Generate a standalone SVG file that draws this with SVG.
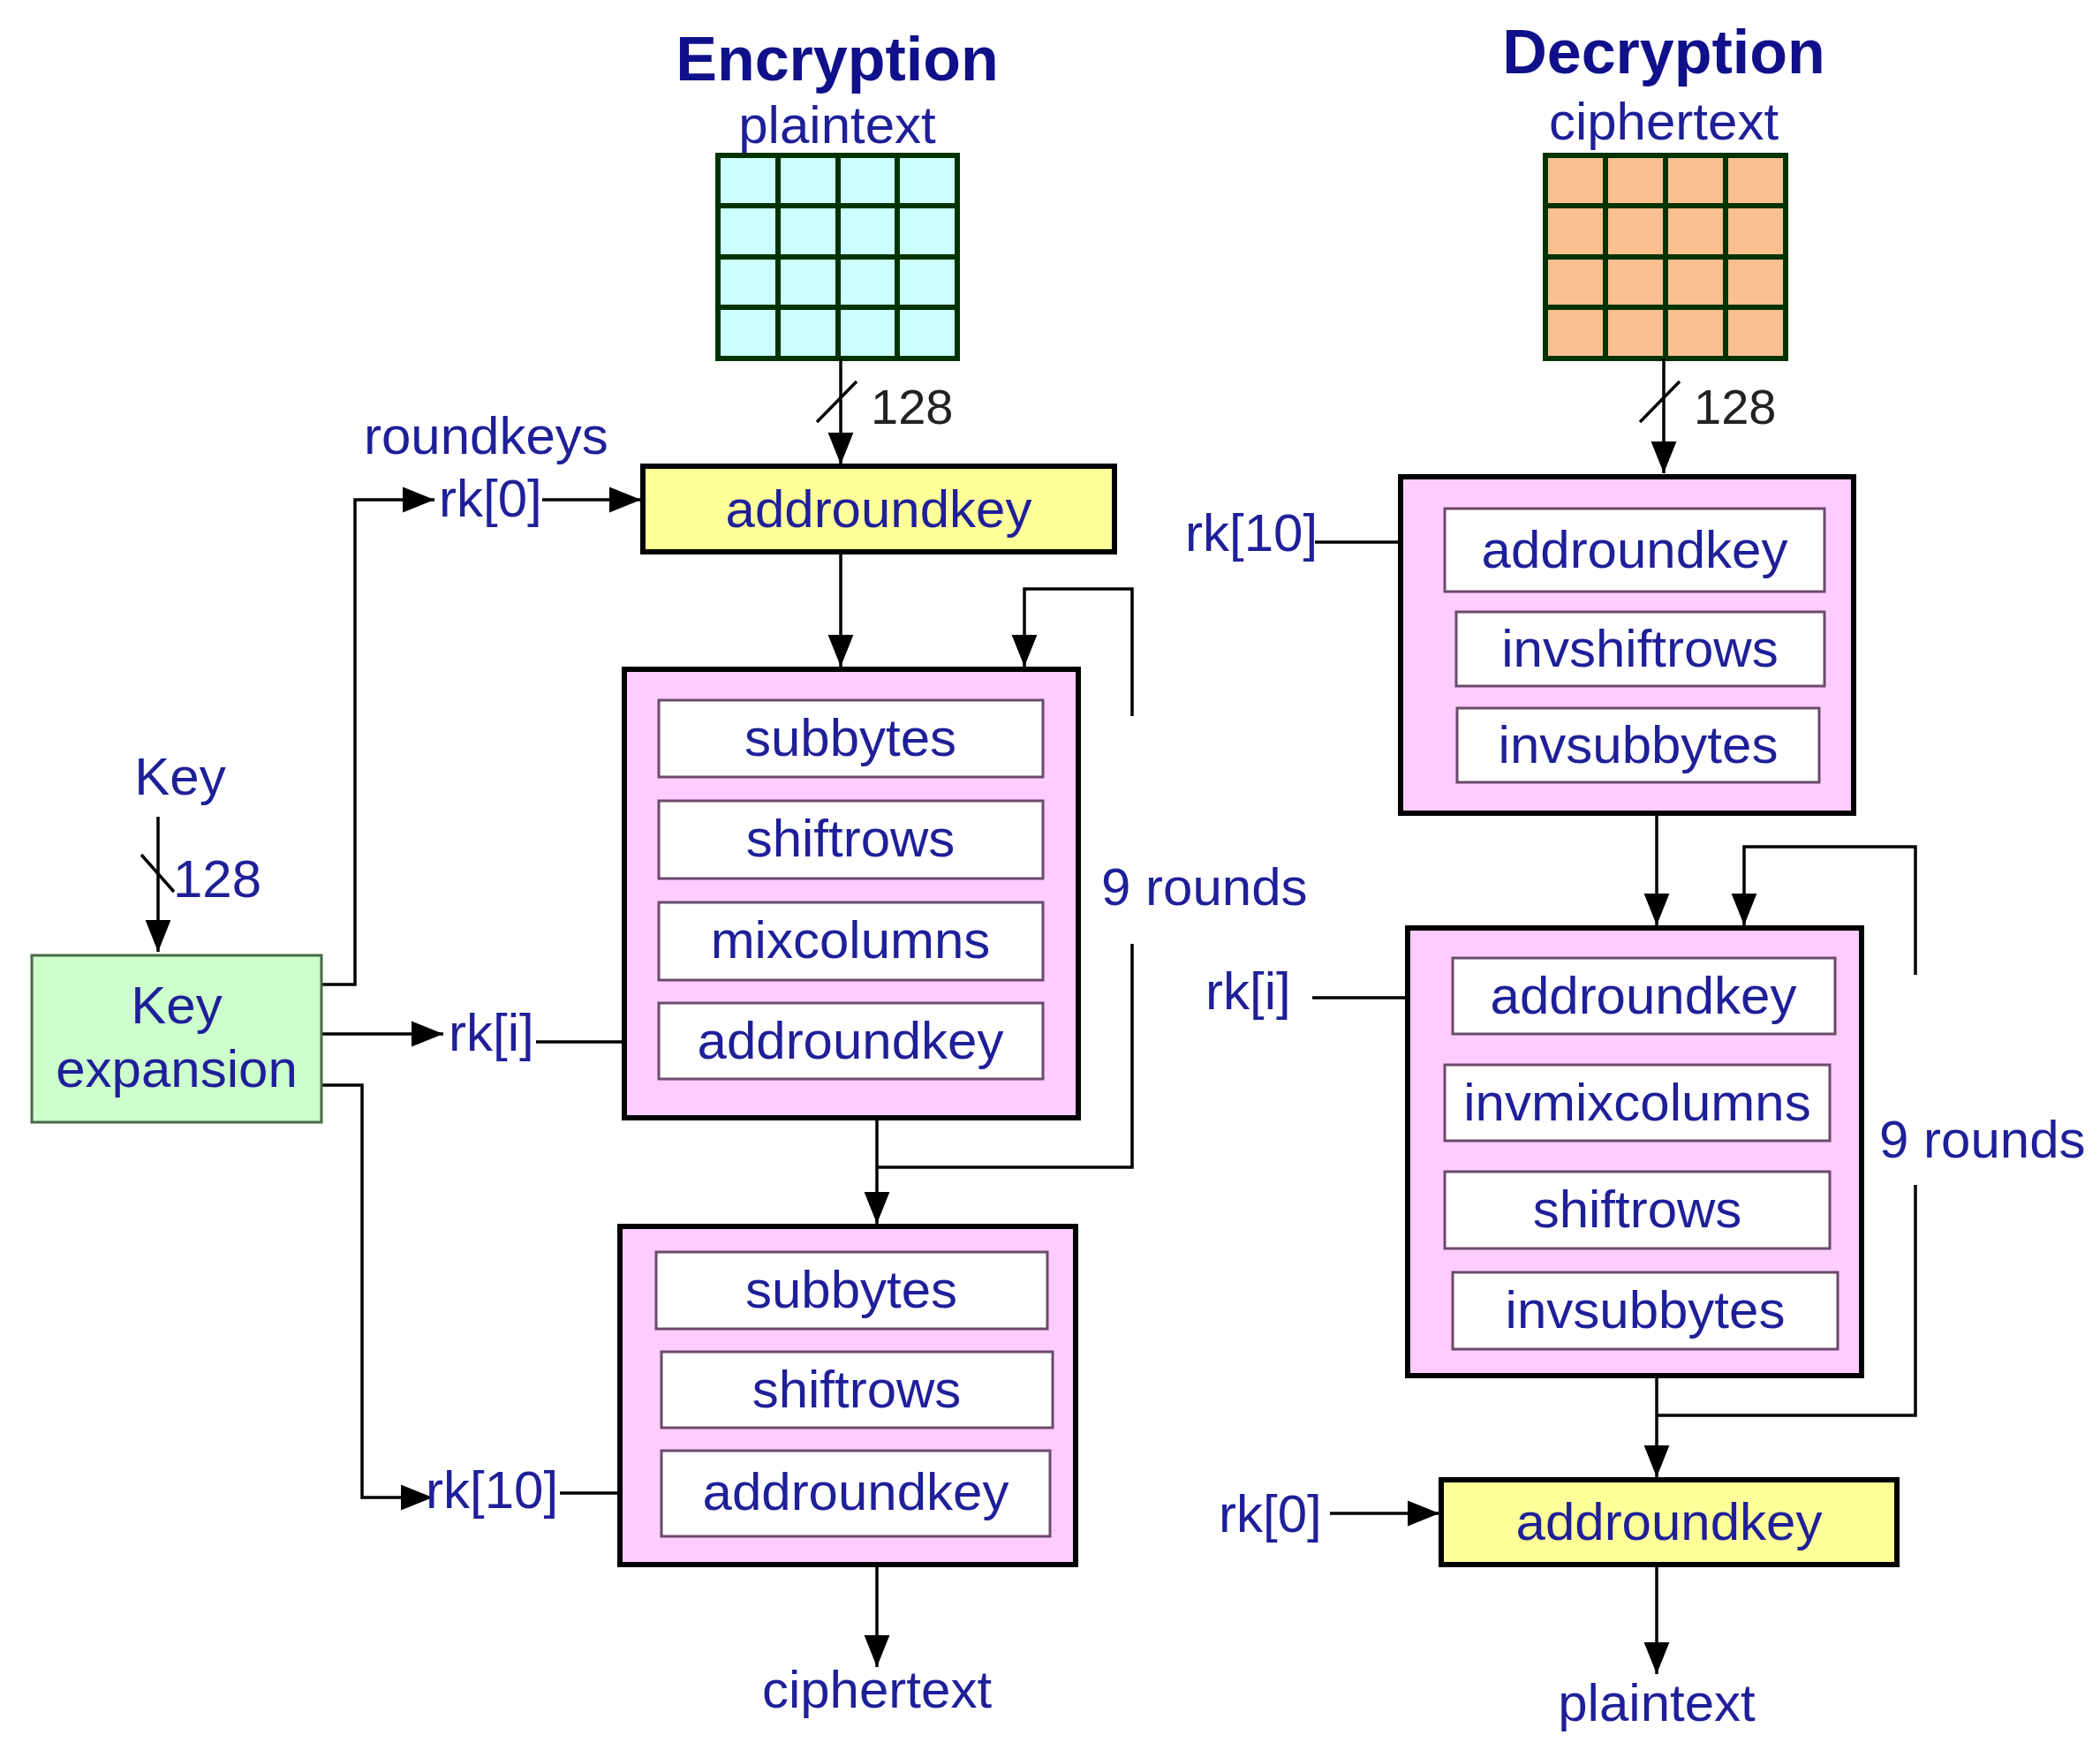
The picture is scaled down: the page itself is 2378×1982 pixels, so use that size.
<svg xmlns="http://www.w3.org/2000/svg" width="2378" height="1982" viewBox="0 0 2378 1982">
<style>
text{font-family:"Liberation Sans",Arial,sans-serif;fill:#1f1f99;font-size:60px}
.t{font-weight:bold;font-size:70px;fill:#10108a}
.n{fill:#222;font-size:56px}
.m{text-anchor:middle}
.outer{fill:#ffccff;stroke:#000;stroke-width:6}
.inner{fill:#fff;stroke:#6a4a6a;stroke-width:3}
.yel{fill:#ffff99;stroke:#000;stroke-width:6}
.ln{fill:none;stroke:#000;stroke-width:3.5}
.grid{stroke:#003300;stroke-width:6;fill:none}
</style>
<defs>
<marker id="a" viewBox="0 0 10 10" refX="10" refY="5" markerWidth="8" markerHeight="8" markerUnits="userSpaceOnUse" orient="auto"><path d="M0,0L10,5L0,10z" fill="#000"/></marker>
<marker id="ah" viewBox="0 0 10 10" refX="10" refY="5" markerWidth="36" markerHeight="36" markerUnits="userSpaceOnUse" orient="auto"><path d="M0,1L10,5L0,9z" fill="#000"/></marker>
</defs>
<rect width="2378" height="1982" fill="#fff"/>

<g id="titles">
<text class="t m" x="948" y="91">Encryption</text>
<text class="t m" x="1884" y="83">Decryption</text>
</g>

<g id="plaintext-in">
<text class="m" x="948" y="162">plaintext</text>
<rect x="813" y="176" width="271" height="230" fill="#ccffff"/>
<path class="grid" d="M813,176H1084V406H813Z M881,176V406 M949,176V406 M1016,176V406 M813,233H1084 M813,291H1084 M813,348H1084"/>
</g>

<g id="ciphertext-in">
<text class="m" x="1884" y="158">ciphertext</text>
<rect x="1750" y="176" width="272" height="230" fill="#fac090"/>
<path class="grid" d="M1750,176H2022V406H1750Z M1818,176V406 M1886,176V406 M1954,176V406 M1750,233H2022 M1750,291H2022 M1750,348H2022"/>
</g>

<g id="connectors">
<!-- encryption -->
<path class="ln" d="M952,406V526" marker-end="url(#ah)"/>
<path class="ln" d="M925,478L970,432"/>
<path class="ln" d="M952,625V755" marker-end="url(#ah)"/>
<path class="ln" d="M993,1266V1386" marker-end="url(#ah)"/>
<path class="ln" d="M993,1322H1282V1069"/>
<path class="ln" d="M1282,811V667H1160V755" marker-end="url(#ah)"/>
<path class="ln" d="M993,1772V1888" marker-end="url(#ah)"/>
<!-- key -->
<path class="ln" d="M179,925V1078" marker-end="url(#ah)"/>
<path class="ln" d="M160,968L197,1010"/>
<path class="ln" d="M364,1115H402V566H492" marker-end="url(#ah)"/>
<path class="ln" d="M614,566H726" marker-end="url(#ah)"/>
<path class="ln" d="M364,1171H502" marker-end="url(#ah)"/>
<path class="ln" d="M607,1180H747" marker-end="url(#ah)"/>
<path class="ln" d="M364,1229H410V1696H490" marker-end="url(#ah)"/>
<path class="ln" d="M634,1691H747" marker-end="url(#ah)"/>
<!-- decryption -->
<path class="ln" d="M1884,406V536" marker-end="url(#ah)"/>
<path class="ln" d="M1857,478L1902,432"/>
<path class="ln" d="M1489,614H1636" marker-end="url(#ah)"/>
<path class="ln" d="M1876,921V1048" marker-end="url(#ah)"/>
<path class="ln" d="M1876,1558V1673" marker-end="url(#ah)"/>
<path class="ln" d="M1876,1603H2169V1342"/>
<path class="ln" d="M2169,1104V959H1975V1048" marker-end="url(#ah)"/>
<path class="ln" d="M1486,1130H1645" marker-end="url(#ah)"/>
<path class="ln" d="M1506,1714H1630" marker-end="url(#ah)"/>
<path class="ln" d="M1876,1772V1896" marker-end="url(#ah)"/>
</g>

<g id="labels">
<text class="n" x="986" y="480">128</text>
<text class="n" x="1918" y="480">128</text>
<text x="412" y="514">roundkeys</text>
<text x="497" y="585">rk[0]</text>
<text x="508" y="1190">rk[i]</text>
<text x="482" y="1708">rk[10]</text>
<text x="1247" y="1025">9 rounds</text>
<text class="m" x="993" y="1934">ciphertext</text>
<text x="1342" y="624">rk[10]</text>
<text x="1365" y="1143">rk[i]</text>
<text x="1380" y="1735">rk[0]</text>
<text x="2128" y="1311">9 rounds</text>
<text class="m" x="1876" y="1949">plaintext</text>
</g>

<g id="key">
<text class="m" x="204" y="900">Key</text>
<text x="196" y="1016">128</text>
</g>

<g id="keyexpansion">
<rect x="36" y="1082" width="328" height="189" fill="#ccffcc" stroke="#4a6a4a" stroke-width="3"/>
<text class="m" x="200" y="1159">Key</text>
<text class="m" x="200" y="1231">expansion</text>
</g>

<g id="enc-addroundkey0">
<rect class="yel" x="728" y="528" width="534" height="97"/>
<text class="m" x="995" y="597">addroundkey</text>
</g>

<g id="enc-round">
<rect class="outer" x="707" y="758" width="514" height="508"/>
<rect class="inner" x="746" y="793" width="435" height="87"/>
<text class="m" x="963" y="856">subbytes</text>
<rect class="inner" x="746" y="907" width="435" height="88"/>
<text class="m" x="963" y="970">shiftrows</text>
<rect class="inner" x="746" y="1022" width="435" height="88"/>
<text class="m" x="963" y="1085">mixcolumns</text>
<rect class="inner" x="746" y="1136" width="435" height="86"/>
<text class="m" x="963" y="1199">addroundkey</text>
</g>

<g id="enc-final">
<rect class="outer" x="702" y="1389" width="516" height="383"/>
<rect class="inner" x="743" y="1418" width="443" height="87"/>
<text class="m" x="964" y="1481">subbytes</text>
<rect class="inner" x="749" y="1531" width="443" height="86"/>
<text class="m" x="970" y="1594">shiftrows</text>
<rect class="inner" x="749" y="1643" width="440" height="97"/>
<text class="m" x="969" y="1710">addroundkey</text>
</g>

<g id="dec-first">
<rect class="outer" x="1586" y="540" width="513" height="381"/>
<rect class="inner" x="1636" y="576" width="430" height="94"/>
<text class="m" x="1851" y="643">addroundkey</text>
<rect class="inner" x="1649" y="693" width="417" height="84"/>
<text class="m" x="1857" y="755">invshiftrows</text>
<rect class="inner" x="1650" y="802" width="410" height="84"/>
<text class="m" x="1855" y="864">invsubbytes</text>
</g>

<g id="dec-round">
<rect class="outer" x="1594" y="1051" width="514" height="507"/>
<rect class="inner" x="1645" y="1085" width="433" height="86"/>
<text class="m" x="1861" y="1148">addroundkey</text>
<rect class="inner" x="1636" y="1206" width="436" height="86"/>
<text class="m" x="1854" y="1269">invmixcolumns</text>
<rect class="inner" x="1636" y="1327" width="436" height="87"/>
<text class="m" x="1854" y="1390">shiftrows</text>
<rect class="inner" x="1645" y="1441" width="436" height="87"/>
<text class="m" x="1863" y="1504">invsubbytes</text>
</g>

<g id="dec-addroundkey0">
<rect class="yel" x="1632" y="1676" width="516" height="96"/>
<text class="m" x="1890" y="1744">addroundkey</text>
</g>
</svg>
